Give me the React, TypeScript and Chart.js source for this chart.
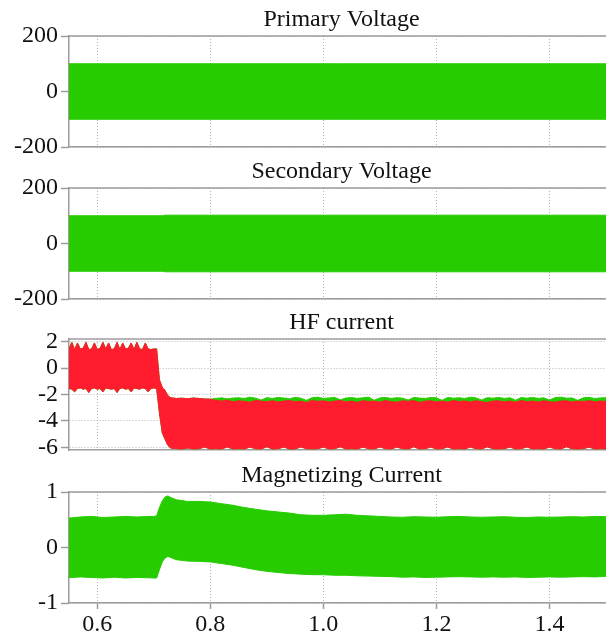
import React, { useEffect, useRef } from 'react';
import { Chart, registerables } from 'chart.js';

Chart.register(...registerables);

// ---------- shared axis data ----------
const X_MIN = 0.55;
const X_MAX = 1.5;
const X_TICKS = [0.6, 0.8, 1.0, 1.2, 1.4];
const X_TICK_LABELS = ['0.6', '0.8', '1.0', '1.2', '1.4'];

// ---------- Primary Voltage (envelope of the oscillation) ----------
const PRI_T = [0.55, 1.5];
const PRI_HI = [100, 100];
const PRI_LO = [-100, -100];
const VOLT_TICKS = [-200, 0, 200];
const VOLT_TICK_LABELS = ['-200', '0', '200'];

// ---------- Secondary Voltage ----------
const SEC_T = [0.55, 0.715, 0.72, 1.5];
const SEC_HI = [100, 100, 102, 102];
const SEC_LO = [-100, -100, -102, -102];

// ---------- HF current ----------
const HF_T = [
  0.55, 0.555, 0.56, 0.565, 0.57, 0.575, 0.58, 0.585, 0.59, 0.595,
  0.6, 0.605, 0.61, 0.615, 0.62, 0.625, 0.63, 0.635, 0.64, 0.645,
  0.65, 0.655, 0.66, 0.665, 0.67, 0.675, 0.68, 0.685, 0.69, 0.695, 0.7,
  0.705, 0.71, 0.715, 0.72, 0.725, 0.73,
  0.74, 0.75, 0.76, 0.77, 0.78, 0.79, 0.8,
  0.81, 0.82, 0.83, 0.84, 0.85, 0.86, 0.87, 0.88, 0.89, 0.9,
  0.91, 0.92, 0.93, 0.94, 0.95, 0.96, 0.97, 0.98, 0.99, 1.0,
  1.01, 1.02, 1.03, 1.04, 1.05, 1.06, 1.07, 1.08, 1.09, 1.1,
  1.11, 1.12, 1.13, 1.14, 1.15, 1.16, 1.17, 1.18, 1.19, 1.2,
  1.21, 1.22, 1.23, 1.24, 1.25, 1.26, 1.27, 1.28, 1.29, 1.3,
  1.31, 1.32, 1.33, 1.34, 1.35, 1.36, 1.37, 1.38, 1.39, 1.4,
  1.41, 1.42, 1.43, 1.44, 1.45, 1.46, 1.47, 1.48, 1.49, 1.5,
];
const HF_RED_HI = [
  1.45, 1.95, 1.4, 1.9, 1.45, 1.5, 1.95, 1.4, 1.45, 1.9,
  1.4, 1.5, 1.95, 1.45, 1.9, 1.4, 1.45, 1.95, 1.4, 1.9,
  1.45, 1.5, 1.9, 1.4, 1.95, 1.45, 1.4, 1.9, 1.45, 1.4, 1.45,
  1.45, -0.9, -1.45, -1.7, -2.1, -2.25,
  -2.3, -2.28, -2.32, -2.27, -2.3, -2.34, -2.35,
  -2.45, -2.5, -2.42, -2.55, -2.48, -2.52, -2.58, -2.45, -2.5, -2.55,
  -2.47, -2.57, -2.5, -2.45, -2.55, -2.5, -2.6, -2.46, -2.52, -2.48,
  -2.57, -2.5, -2.45, -2.56, -2.5, -2.6, -2.47, -2.53, -2.5, -2.58,
  -2.45, -2.55, -2.58, -2.48, -2.52, -2.46, -2.6, -2.5, -2.48, -2.56,
  -2.5, -2.58, -2.46, -2.53, -2.49, -2.57, -2.47, -2.55, -2.6, -2.5,
  -2.48, -2.56, -2.5, -2.58, -2.46, -2.54, -2.5, -2.57, -2.47, -2.55,
  -2.58, -2.5, -2.48, -2.56, -2.5, -2.53, -2.47, -2.55, -2.5, -2.52,
];
const HF_GRN_HI = [
  1.45, 1.95, 1.4, 1.9, 1.45, 1.5, 1.95, 1.4, 1.45, 1.9,
  1.4, 1.5, 1.95, 1.45, 1.9, 1.4, 1.45, 1.95, 1.4, 1.9,
  1.45, 1.5, 1.9, 1.4, 1.95, 1.45, 1.4, 1.9, 1.45, 1.4, 1.45,
  1.45, -0.9, -1.45, -1.7, -2.1, -2.25,
  -2.3, -2.28, -2.32, -2.27, -2.3, -2.34, -2.35,
  -2.3, -2.25, -2.33, -2.27, -2.25, -2.3, -2.2, -2.28, -2.42, -2.24,
  -2.3, -2.22, -2.27, -2.32, -2.22, -2.28, -2.44, -2.25, -2.2, -2.3,
  -2.26, -2.22, -2.4, -2.27, -2.23, -2.3, -2.25, -2.2, -2.43, -2.26,
  -2.22, -2.3, -2.24, -2.28, -2.42, -2.22, -2.27, -2.3, -2.23, -2.25,
  -2.44, -2.22, -2.28, -2.25, -2.3, -2.2, -2.26, -2.42, -2.24, -2.28,
  -2.22, -2.3, -2.25, -2.43, -2.23, -2.28, -2.22, -2.3, -2.25, -2.42,
  -2.24, -2.2, -2.28, -2.26, -2.44, -2.25, -2.22, -2.3, -2.26, -2.24,
];
const HF_LO = [
  -1.55, -1.6, -1.8, -1.55, -1.5, -1.6, -1.55, -1.85, -1.55, -1.5,
  -1.6, -1.55, -1.8, -1.5, -1.55, -1.6, -1.55, -1.85, -1.55, -1.5,
  -1.6, -1.55, -1.8, -1.5, -1.55, -1.6, -1.5, -1.55, -1.8, -1.55, -1.5,
  -1.55, -3.4, -4.9, -5.4, -5.85, -6.05,
  -6.1, -6.12, -6.05, -6.12, -6.1, -5.98, -6.12,
  -6.1, -6.12, -5.97, -6.12, -6.1, -6.12, -5.98, -6.1, -6.12, -5.96,
  -6.12, -6.1, -5.98, -6.12, -6.12, -5.97, -6.1, -6.12, -6.1, -5.98,
  -6.12, -6.1, -5.96, -6.12, -6.1, -6.12, -5.98, -6.1, -6.12, -5.97,
  -6.1, -6.12, -5.98, -6.1, -6.12, -5.96, -6.12, -6.1, -5.98, -6.12,
  -6.1, -5.97, -6.12, -6.1, -6.12, -5.98, -6.1, -6.12, -5.96, -6.1,
  -6.12, -6.1, -5.98, -6.12, -6.1, -5.97, -6.12, -6.1, -6.12, -5.98,
  -6.1, -6.12, -5.96, -6.1, -6.12, -6.1, -5.98, -6.12, -6.1, -6.12,
];
const HF_TICKS = [-6, -4, -2, 0, 2];
const HF_TICK_LABELS = ['-6', '-4', '-2', '0', '2'];

// ---------- Magnetizing Current ----------
const MAG_T = [
  0.55, 0.57, 0.59, 0.61, 0.63, 0.65, 0.67, 0.69, 0.7, 0.705, 0.71, 0.715, 0.72, 0.725, 0.73,
  0.74, 0.76, 0.78, 0.8, 0.82, 0.84, 0.86, 0.88, 0.9, 0.92, 0.94, 0.96, 0.98, 1.0,
  1.02, 1.04, 1.06, 1.08, 1.1, 1.12, 1.14, 1.16, 1.18, 1.2,
  1.22, 1.24, 1.26, 1.28, 1.3, 1.32, 1.34, 1.36, 1.38, 1.4,
  1.42, 1.44, 1.46, 1.48, 1.5,
];
const MAG_HI = [
  0.53, 0.55, 0.56, 0.54, 0.55, 0.56, 0.55, 0.56, 0.56, 0.57, 0.72, 0.84, 0.91, 0.93, 0.9,
  0.86, 0.83, 0.83, 0.82, 0.79, 0.76, 0.72, 0.69, 0.66, 0.64, 0.62, 0.59, 0.58, 0.58,
  0.59, 0.6, 0.58, 0.57, 0.56, 0.55, 0.545, 0.555, 0.55, 0.545,
  0.555, 0.56, 0.55, 0.545, 0.55, 0.555, 0.545, 0.54, 0.55, 0.545,
  0.55, 0.555, 0.55, 0.56, 0.555,
];
const MAG_LO = [
  -0.545, -0.53, -0.54, -0.55, -0.535, -0.55, -0.54, -0.545, -0.55, -0.55, -0.4, -0.26, -0.19, -0.16, -0.18,
  -0.22, -0.245, -0.25, -0.26, -0.29, -0.32, -0.36, -0.4, -0.43, -0.45, -0.47, -0.48, -0.49, -0.49,
  -0.5, -0.5, -0.51, -0.515, -0.52, -0.525, -0.535, -0.53, -0.54, -0.535,
  -0.53, -0.525, -0.53, -0.535, -0.53, -0.535, -0.53, -0.54, -0.535, -0.53,
  -0.535, -0.53, -0.525, -0.53, -0.52,
];
const MAG_TICKS = [-1, 0, 1];
const MAG_TICK_LABELS = ['-1', '0', '1'];

const GREEN = '#26CC00';
const RED = '#FF1C2E';
const FONT = '"Liberation Serif", "Times New Roman", serif';
const AXIS_GRAY = '#9c9c9c';
const GRID_GRAY = '#b4b4b4';

type Band = { t: number[]; hi: number[]; lo: number[]; color: string };

type PanelProps = {
  title: string;
  top: number;
  height: number;
  bottomPad: number;
  xAxisHeight: number;
  showXLabels: boolean;
  yMin: number;
  yMax: number;
  yTicks: number[];
  yTickLabels: string[];
  bands: Band[];
};

const framePlugin = {
  id: 'frame',
  afterDraw(chart: any, _args: any, opts: any) {
    const { ctx, chartArea } = chart;
    ctx.save();
    ctx.strokeStyle = AXIS_GRAY;
    ctx.lineWidth = 1.5;
    ctx.beginPath();
    ctx.moveTo(chartArea.left, chartArea.top);
    ctx.lineTo(chartArea.right, chartArea.top);
    ctx.stroke();
    ctx.fillStyle = '#111';
    ctx.font = '24px ' + FONT;
    ctx.textAlign = 'center';
    ctx.textBaseline = 'alphabetic';
    ctx.fillText(opts.text, (chartArea.left + chartArea.right) / 2 + 4, chartArea.top - 10);
    ctx.restore();
  },
};

function Panel(p: PanelProps) {
  const ref = useRef<HTMLCanvasElement>(null);
  useEffect(() => {
    if (!ref.current) return;
    const datasets: any[] = [];
    p.bands.forEach((b) => {
      datasets.push({
        data: b.t.map((x, j) => ({ x, y: b.hi[j] })),
        borderColor: b.color,
        backgroundColor: b.color,
        borderWidth: 1,
        pointRadius: 0,
        tension: 0,
        fill: false,
      });
      datasets.push({
        data: b.t.map((x, j) => ({ x, y: b.lo[j] })),
        borderColor: b.color,
        backgroundColor: b.color,
        borderWidth: 1,
        pointRadius: 0,
        tension: 0,
        fill: '-1',
      });
    });
    const chart = new Chart(ref.current, {
      type: 'line',
      data: { datasets },
      plugins: [framePlugin as any],
      options: {
        animation: false,
        responsive: false,
        devicePixelRatio: 1,
        layout: { padding: { top: 36, left: 0, right: 0, bottom: p.bottomPad } },
        plugins: {
          legend: { display: false },
          tooltip: { enabled: false },
          title: { display: false },
          frame: { text: p.title },
        } as any,
        scales: {
          x: {
            type: 'linear',
            min: X_MIN,
            max: X_MAX,
            afterBuildTicks: (s: any) => {
              s.ticks = X_TICKS.map((v) => ({ value: v }));
            },
            afterFit: (s: any) => {
              s.height = p.xAxisHeight;
              s.paddingLeft = 0;
              s.paddingRight = 0;
            },
            ticks: {
              display: p.showXLabels,
              autoSkip: false,
              maxRotation: 0,
              padding: 1,
              color: '#111',
              font: { family: FONT, size: 24 },
              callback: (_v: any, i: number) => X_TICK_LABELS[i],
            },
            grid: {
              color: GRID_GRAY,
              lineWidth: 1,
              drawTicks: p.showXLabels,
              tickLength: 6,
              tickColor: AXIS_GRAY,
              tickWidth: 1.5,
              tickBorderDash: [],
            },
            border: { display: true, color: AXIS_GRAY, width: 1.5, dash: [1, 2] },
          },
          y: {
            type: 'linear',
            min: p.yMin,
            max: p.yMax,
            afterBuildTicks: (s: any) => {
              s.ticks = p.yTicks.map((v) => ({ value: v }));
            },
            afterFit: (s: any) => {
              s.width = 69;
              s.paddingTop = 0;
              s.paddingBottom = 0;
            },
            ticks: {
              autoSkip: false,
              padding: 3,
              color: '#111',
              font: { family: FONT, size: 24 },
              callback: (_v: any, i: number) => p.yTickLabels[i],
            },
            grid: {
              color: GRID_GRAY,
              lineWidth: 1,
              drawTicks: true,
              tickLength: 8,
              tickColor: AXIS_GRAY,
              tickWidth: 1.5,
              tickBorderDash: [],
            },
            border: { display: true, color: AXIS_GRAY, width: 1.5, dash: [1, 2] },
          },
        },
      } as any,
    });
    return () => chart.destroy();
  }, []);
  return (
    <div style={{ position: 'absolute', left: 0, top: p.top, width: 606, height: p.height }}>
      <canvas ref={ref} width={606} height={p.height} style={{ display: 'block' }} />
    </div>
  );
}

export default function App() {
  return (
    <div style={{ position: 'absolute', left: 0, top: 0, width: 606, height: 637, background: '#fff', overflow: 'hidden' }}>
      <Panel
        title="Primary Voltage"
        top={0}
        height={168}
        bottomPad={16}
        xAxisHeight={5}
        showXLabels={false}
        yMin={-200}
        yMax={200}
        yTicks={VOLT_TICKS}
        yTickLabels={VOLT_TICK_LABELS}
        bands={[{ t: PRI_T, hi: PRI_HI, lo: PRI_LO, color: GREEN }]}
      />
      <Panel
        title="Secondary Voltage"
        top={152}
        height={168}
        bottomPad={16}
        xAxisHeight={5}
        showXLabels={false}
        yMin={-200}
        yMax={200}
        yTicks={VOLT_TICKS}
        yTickLabels={VOLT_TICK_LABELS}
        bands={[{ t: SEC_T, hi: SEC_HI, lo: SEC_LO, color: GREEN }]}
      />
      <Panel
        title="HF current"
        top={303}
        height={168}
        bottomPad={16}
        xAxisHeight={5}
        showXLabels={false}
        yMin={-6.2}
        yMax={2.2}
        yTicks={HF_TICKS}
        yTickLabels={HF_TICK_LABELS}
        bands={[
          { t: HF_T, hi: HF_RED_HI, lo: HF_LO, color: RED },
          { t: HF_T, hi: HF_GRN_HI, lo: HF_LO, color: GREEN },
        ]}
      />
      <Panel
        title="Magnetizing Current"
        top={456}
        height={181}
        bottomPad={0}
        xAxisHeight={34}
        showXLabels={true}
        yMin={-1}
        yMax={1}
        yTicks={MAG_TICKS}
        yTickLabels={MAG_TICK_LABELS}
        bands={[{ t: MAG_T, hi: MAG_HI, lo: MAG_LO, color: GREEN }]}
      />
    </div>
  );
}
